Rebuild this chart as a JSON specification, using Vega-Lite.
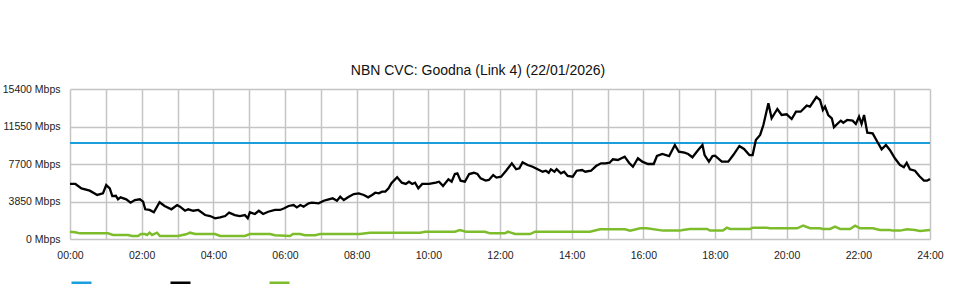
{
  "$schema": "https://vega.github.io/schema/vega-lite/v6.json",
  "width": 860,
  "height": 150,
  "autosize": "none",
  "padding": {"left": 70, "top": 89, "right": 30, "bottom": 61},
  "background": "white",
  "config": {"font": "Liberation Sans", "view": {"stroke": null}},
  "title": {"text": "NBN CVC: Goodna (Link 4) (22/01/2026)", "fontSize": 14, "fontWeight": "normal", "color": "#111", "font": "Liberation Sans", "anchor": "middle", "offset": 6, "dx": -22},
  "datasets": {
    "cap": [{"t": 0, "s": "Capacity", "v": 9850}, {"t": 24, "s": "Capacity", "v": 9850}],
    "down": [
      {"t":0,"v":5650},{"t":0.15,"v":5650},{"t":0.32,"v":5200},{"t":0.55,"v":4960},{"t":0.76,"v":4520},{"t":0.92,"v":4690},{"t":1.01,"v":5540},{"t":1.11,"v":5200},{"t":1.18,"v":4410},{"t":1.28,"v":4440},{"t":1.34,"v":4075},{"t":1.41,"v":4280},{"t":1.57,"v":4075},{"t":1.69,"v":3730},{"t":1.81,"v":4000},{"t":1.95,"v":4075},{"t":2.04,"v":3830},{"t":2.10,"v":3050},{"t":2.22,"v":2980},{"t":2.34,"v":2740},{"t":2.50,"v":3770},{"t":2.64,"v":3390},{"t":2.83,"v":3050},{"t":2.99,"v":3490},{"t":3.07,"v":3320},{"t":3.21,"v":2900},{"t":3.30,"v":3050},{"t":3.44,"v":2900},{"t":3.58,"v":2980},{"t":3.77,"v":2460},{"t":3.91,"v":2360},{"t":4.05,"v":2120},{"t":4.19,"v":2230},{"t":4.33,"v":2360},{"t":4.44,"v":2700},{"t":4.60,"v":2460},{"t":4.74,"v":2360},{"t":4.88,"v":2460},{"t":4.96,"v":2120},{"t":5.02,"v":2740},{"t":5.16,"v":2570},{"t":5.27,"v":2900},{"t":5.39,"v":2570},{"t":5.53,"v":2800},{"t":5.72,"v":2980},{"t":5.86,"v":2980},{"t":5.98,"v":3150},{"t":6.10,"v":3390},{"t":6.24,"v":3490},{"t":6.33,"v":3250},{"t":6.43,"v":3490},{"t":6.52,"v":3320},{"t":6.66,"v":3660},{"t":6.75,"v":3730},{"t":6.94,"v":3660},{"t":7.08,"v":3930},{"t":7.22,"v":4075},{"t":7.33,"v":4180},{"t":7.45,"v":3930},{"t":7.54,"v":4340},{"t":7.64,"v":4000},{"t":7.78,"v":4340},{"t":7.92,"v":4620},{"t":8.06,"v":4690},{"t":8.20,"v":4520},{"t":8.32,"v":4280},{"t":8.43,"v":4520},{"t":8.52,"v":4750},{"t":8.62,"v":4690},{"t":8.71,"v":4860},{"t":8.80,"v":4860},{"t":8.89,"v":5200},{"t":8.97,"v":5720},{"t":9.13,"v":6340},{"t":9.26,"v":5780},{"t":9.37,"v":5650},{"t":9.46,"v":5880},{"t":9.55,"v":5650},{"t":9.63,"v":5780},{"t":9.72,"v":5200},{"t":9.83,"v":5650},{"t":10.02,"v":5650},{"t":10.21,"v":5780},{"t":10.30,"v":5880},{"t":10.41,"v":5440},{"t":10.56,"v":6130},{"t":10.65,"v":5880},{"t":10.74,"v":6670},{"t":10.81,"v":6740},{"t":10.90,"v":5990},{"t":11.02,"v":5880},{"t":11.14,"v":6670},{"t":11.27,"v":6800},{"t":11.37,"v":6670},{"t":11.46,"v":6230},{"t":11.60,"v":5990},{"t":11.69,"v":6060},{"t":11.81,"v":6570},{"t":11.90,"v":6300},{"t":12.03,"v":6400},{"t":12.17,"v":7010},{"t":12.33,"v":7770},{"t":12.45,"v":7160},{"t":12.54,"v":7260},{"t":12.63,"v":7880},{"t":12.77,"v":7600},{"t":12.91,"v":7420},{"t":13.05,"v":7160},{"t":13.19,"v":6910},{"t":13.28,"v":7010},{"t":13.36,"v":6800},{"t":13.42,"v":7160},{"t":13.52,"v":6910},{"t":13.58,"v":7160},{"t":13.70,"v":6740},{"t":13.79,"v":6910},{"t":13.89,"v":6470},{"t":14.03,"v":6400},{"t":14.14,"v":7010},{"t":14.29,"v":7080},{"t":14.38,"v":6910},{"t":14.54,"v":7010},{"t":14.68,"v":7490},{"t":14.82,"v":7770},{"t":14.94,"v":7770},{"t":15.06,"v":7830},{"t":15.15,"v":8180},{"t":15.29,"v":8110},{"t":15.39,"v":8290},{"t":15.48,"v":8450},{"t":15.60,"v":7830},{"t":15.71,"v":7420},{"t":15.85,"v":8290},{"t":15.97,"v":7940},{"t":16.13,"v":7700},{"t":16.29,"v":7700},{"t":16.38,"v":8520},{"t":16.53,"v":8730},{"t":16.72,"v":8520},{"t":16.88,"v":9650},{"t":16.99,"v":8960},{"t":17.15,"v":8860},{"t":17.25,"v":8730},{"t":17.37,"v":8390},{"t":17.53,"v":9140},{"t":17.65,"v":9650},{"t":17.71,"v":8620},{"t":17.83,"v":7940},{"t":17.93,"v":8520},{"t":18.00,"v":8550},{"t":18.19,"v":7940},{"t":18.37,"v":7940},{"t":18.51,"v":8620},{"t":18.68,"v":9550},{"t":18.81,"v":9240},{"t":18.96,"v":8620},{"t":19.05,"v":8620},{"t":19.14,"v":10160},{"t":19.26,"v":10680},{"t":19.35,"v":11700},{"t":19.49,"v":13930},{"t":19.58,"v":12390},{"t":19.74,"v":13350},{"t":19.86,"v":12730},{"t":20.00,"v":12800},{"t":20.14,"v":12320},{"t":20.26,"v":13070},{"t":20.39,"v":13070},{"t":20.56,"v":13690},{"t":20.65,"v":13590},{"t":20.83,"v":14580},{"t":20.93,"v":14270},{"t":21.01,"v":13240},{"t":21.07,"v":13590},{"t":21.16,"v":12730},{"t":21.26,"v":12390},{"t":21.32,"v":11470},{"t":21.41,"v":11810},{"t":21.51,"v":12150},{"t":21.58,"v":11940},{"t":21.69,"v":12220},{"t":21.84,"v":12150},{"t":21.93,"v":11810},{"t":22.02,"v":12560},{"t":22.09,"v":11810},{"t":22.16,"v":12730},{"t":22.25,"v":10910},{"t":22.40,"v":10850},{"t":22.53,"v":9990},{"t":22.65,"v":9210},{"t":22.77,"v":9650},{"t":22.88,"v":9140},{"t":23.02,"v":8290},{"t":23.16,"v":7600},{"t":23.27,"v":7360},{"t":23.35,"v":7830},{"t":23.44,"v":7160},{"t":23.58,"v":7010},{"t":23.70,"v":6470},{"t":23.83,"v":5990},{"t":23.92,"v":5990},{"t":24,"v":6160}
    ],
    "up": [
      {"t":0,"v":750},{"t":0.14,"v":690},{"t":0.28,"v":580},{"t":1.06,"v":580},{"t":1.20,"v":410},{"t":1.62,"v":410},{"t":1.73,"v":310},{"t":1.90,"v":310},{"t":1.98,"v":510},{"t":2.09,"v":510},{"t":2.15,"v":410},{"t":2.22,"v":650},{"t":2.29,"v":410},{"t":2.43,"v":650},{"t":2.51,"v":310},{"t":3.01,"v":310},{"t":3.24,"v":480},{"t":3.35,"v":650},{"t":3.49,"v":510},{"t":4.05,"v":510},{"t":4.19,"v":310},{"t":4.88,"v":310},{"t":5.02,"v":510},{"t":5.58,"v":510},{"t":5.72,"v":380},{"t":6.14,"v":310},{"t":6.22,"v":510},{"t":6.42,"v":510},{"t":6.56,"v":380},{"t":6.84,"v":380},{"t":6.98,"v":510},{"t":8.09,"v":510},{"t":8.37,"v":650},{"t":9.77,"v":650},{"t":9.91,"v":750},{"t":10.74,"v":750},{"t":10.88,"v":920},{"t":11.05,"v":750},{"t":11.58,"v":750},{"t":11.72,"v":580},{"t":12.14,"v":580},{"t":12.22,"v":750},{"t":12.42,"v":510},{"t":12.84,"v":510},{"t":12.98,"v":750},{"t":14.51,"v":750},{"t":14.79,"v":990},{"t":15.49,"v":990},{"t":15.63,"v":850},{"t":15.91,"v":1100},{"t":16.10,"v":1100},{"t":16.55,"v":860},{"t":17.02,"v":860},{"t":17.10,"v":920},{"t":17.30,"v":1030},{"t":17.78,"v":1030},{"t":17.86,"v":860},{"t":18.22,"v":860},{"t":18.33,"v":1160},{"t":18.42,"v":1030},{"t":18.98,"v":1030},{"t":19.06,"v":1160},{"t":19.45,"v":1160},{"t":19.53,"v":1100},{"t":20.29,"v":1100},{"t":20.46,"v":1370},{"t":20.65,"v":1100},{"t":20.93,"v":1100},{"t":21.01,"v":1030},{"t":21.21,"v":1030},{"t":21.35,"v":1270},{"t":21.49,"v":1030},{"t":21.77,"v":1030},{"t":21.91,"v":1370},{"t":22.05,"v":1100},{"t":22.41,"v":1100},{"t":22.60,"v":920},{"t":22.88,"v":920},{"t":22.96,"v":860},{"t":23.16,"v":860},{"t":23.36,"v":990},{"t":23.58,"v":920},{"t":23.72,"v":820},{"t":24,"v":920}
    ]
  },
  "encoding": {
    "x": {"field": "t", "type": "quantitative", "scale": {"domain": [0, 24], "nice": false},
      "axis": {"title": null, "values": [0,1,2,3,4,5,6,7,8,9,10,11,12,13,14,15,16,17,18,19,20,21,22,23,24],
        "labelExpr": "datum.value % 2 == 0 ? (datum.value < 10 ? '0' : '') + datum.value + ':00' : ''",
        "labelFlush": false, "labelOverlap": false,
        "domain": false, "ticks": false, "grid": true, "gridColor": "#c4c4c4", "gridWidth": 1.5,
        "labelFontSize": 10.5, "labelColor": "#222", "labelPadding": 11, "labelFont": "Liberation Sans"}},
    "y": {"field": "v", "type": "quantitative", "scale": {"domain": [0, 15400], "nice": false},
      "axis": {"title": null, "values": [0, 3850, 7700, 11550, 15400],
        "labelExpr": "datum.value + ' Mbps'",
        "domain": false, "ticks": false, "grid": true, "gridColor": "#c4c4c4", "gridWidth": 1.5,
        "labelFontSize": 10.5, "labelColor": "#222", "labelPadding": 10, "labelFont": "Liberation Sans"}},
    "color": {"field": "s", "type": "nominal",
      "scale": {"domain": ["Capacity", "Download", "Upload"], "range": ["#1b9fdc", "#000000", "#7dbd2c"]},
      "legend": {"orient": "none", "legendX": 0, "legendY": 182, "direction": "horizontal", "title": null,
        "symbolType": "stroke", "symbolSize": 400, "symbolStrokeWidth": 2.5, "labelExpr": "''",
        "labelOffset": 0, "columnPadding": 68, "padding": 0}}
  },
  "layer": [
    {"data": {"name": "cap"}, "mark": {"type": "line", "strokeWidth": 2}},
    {"data": {"name": "up"}, "transform": [{"calculate": "'Upload'", "as": "s"}], "mark": {"type": "line", "strokeWidth": 2.5}},
    {"data": {"name": "down"}, "transform": [{"calculate": "'Download'", "as": "s"}], "mark": {"type": "line", "strokeWidth": 2.3}}
  ]
}
